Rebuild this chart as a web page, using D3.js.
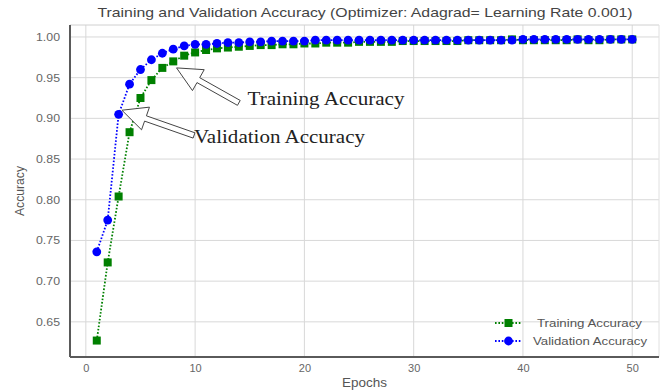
<!DOCTYPE html>
<html>
<head>
<meta charset="utf-8">
<script src="https://cdn.jsdelivr.net/npm/d3@7/dist/d3.min.js"></script>
<style>
  html, body { margin: 0; padding: 0; background: #fff; }
  svg { display: block; }
</style>
</head>
<body>
<svg id="chart" width="669" height="390"></svg>
<script>
const epochs = d3.range(1, 51);
const trainAcc = [0.627, 0.723, 0.804, 0.883, 0.925, 0.947, 0.962, 0.970, 0.977, 0.981,
                  0.984, 0.986, 0.987, 0.988, 0.989, 0.990, 0.990, 0.991, 0.991, 0.992,
                  0.992, 0.993, 0.993, 0.993, 0.994, 0.994, 0.994, 0.994, 0.995, 0.995,
                  0.995, 0.995, 0.995, 0.995, 0.996, 0.996, 0.996, 0.996, 0.997, 0.996,
                  0.996, 0.996, 0.996, 0.996, 0.997, 0.996, 0.996, 0.997, 0.997, 0.997];
const valAcc   = [0.736, 0.775, 0.905, 0.942, 0.960, 0.972, 0.980, 0.985, 0.989, 0.991,
                  0.991, 0.992, 0.993, 0.993, 0.994, 0.994, 0.995, 0.995, 0.995, 0.995,
                  0.996, 0.996, 0.996, 0.996, 0.996, 0.996, 0.996, 0.996, 0.996, 0.996,
                  0.996, 0.996, 0.996, 0.996, 0.996, 0.996, 0.996, 0.996, 0.996, 0.997,
                  0.997, 0.997, 0.997, 0.997, 0.997, 0.997, 0.997, 0.997, 0.997, 0.997];
const xTicks = [0, 10, 20, 30, 40, 50];
const yTicks = [0.65, 0.70, 0.75, 0.80, 0.85, 0.90, 0.95, 1.00];
const seriesNames = ["Training Accuracy", "Validation Accuracy"];
const titleText = "Training and Validation Accuracy (Optimizer: Adagrad= Learning Rate 0.001)";

const svg = d3.select("#chart");
const plot = { left: 70, right: 659, top: 25, bottom: 357 };
const x = d3.scaleLinear().domain([-1.45, 52.45]).range([plot.left, plot.right]);
const y = d3.scaleLinear().domain([0.6068, 1.0147]).range([plot.bottom, plot.top]);
const sans = "'Liberation Sans', Arial, sans-serif";

// grid
const g = svg.append("g");
g.selectAll(".vg").data(xTicks).enter().append("line")
  .attr("x1", d => x(d)).attr("x2", d => x(d))
  .attr("y1", plot.top).attr("y2", plot.bottom)
  .attr("stroke", "#d8d8d8").attr("stroke-width", 1);
g.selectAll(".hg").data(yTicks).enter().append("line")
  .attr("y1", d => y(d)).attr("y2", d => y(d))
  .attr("x1", plot.left).attr("x2", plot.right)
  .attr("stroke", "#d8d8d8").attr("stroke-width", 1);

// frame
svg.append("line").attr("x1", plot.left).attr("x2", plot.right).attr("y1", plot.top).attr("y2", plot.top)
  .attr("stroke", "#d0d0d0");
svg.append("line").attr("x1", plot.right).attr("x2", plot.right).attr("y1", plot.top).attr("y2", plot.bottom)
  .attr("stroke", "#e0e0e0");

// axes
const xAxis = d3.axisBottom(x).tickValues(xTicks).tickSize(0).tickPadding(7).tickFormat(d3.format("d"));
const yAxis = d3.axisLeft(y).tickValues(yTicks).tickSize(0).tickPadding(10).tickFormat(d3.format(".2f"));
const gx = svg.append("g").attr("transform", `translate(0,${plot.bottom})`).call(xAxis);
const gy = svg.append("g").attr("transform", `translate(${plot.left},0)`).call(yAxis);
[gx, gy].forEach(a => {
  a.select(".domain").attr("stroke", "#5a5a5a").attr("stroke-width", 2);
  a.selectAll("text").attr("fill", "#666").style("font-family", sans).style("font-size", "11px");
});
gy.selectAll("text").attr("textLength", 24).attr("lengthAdjust", "spacingAndGlyphs");
gx.select(".domain").attr("d", `M${plot.left},0H${plot.right}`);
gy.select(".domain").attr("d", `M0,${plot.top}V${plot.bottom}`);

// labels
svg.append("text").attr("x", (plot.left + plot.right) / 2).attr("y", 387)
  .attr("text-anchor", "middle").attr("fill", "#555")
  .attr("textLength", 45).attr("lengthAdjust", "spacingAndGlyphs")
  .style("font-family", sans).style("font-size", "12.5px").text("Epochs");
svg.append("text").attr("transform", `translate(24,${(plot.top + plot.bottom) / 2}) rotate(-90)`)
  .attr("text-anchor", "middle").attr("fill", "#555")
  .attr("textLength", 50).attr("lengthAdjust", "spacingAndGlyphs")
  .style("font-family", sans).style("font-size", "12.5px").text("Accuracy");
svg.append("text").attr("x", 365).attr("y", 17)
  .attr("text-anchor", "middle").attr("fill", "#444")
  .attr("textLength", 535).attr("lengthAdjust", "spacingAndGlyphs")
  .style("font-family", sans).style("font-size", "13px").text(titleText);

// series
const colors = ["#008000", "#0000ff"];
const datasets = [trainAcc, valAcc];
const line = d3.line().x((d, i) => x(epochs[i])).y(d => y(d));
datasets.forEach((vals, si) => {
  svg.append("path").datum(vals).attr("d", line)
    .attr("fill", "none").attr("stroke", colors[si]).attr("stroke-width", 1.8)
    .attr("stroke-dasharray", "1.6,1.8");
  if (si === 0) {
    svg.selectAll(".sq").data(vals).enter().append("rect")
      .attr("x", (d, i) => x(epochs[i]) - 4).attr("y", d => y(d) - 4)
      .attr("width", 8).attr("height", 8).attr("fill", colors[si]);
  } else {
    svg.selectAll(".ci").data(vals).enter().append("circle")
      .attr("cx", (d, i) => x(epochs[i])).attr("cy", d => y(d))
      .attr("r", 4.4).attr("fill", colors[si]);
  }
});

// hollow arrows (annotations)
function blockArrow(tail, tip, headLen, headHalf, shaftHalf) {
  const dx = tip[0] - tail[0], dy = tip[1] - tail[1];
  const L = Math.hypot(dx, dy);
  const ux = dx / L, uy = dy / L, nx = -uy, ny = ux;
  const bx = tip[0] - ux * headLen, by = tip[1] - uy * headLen;
  const pts = [
    tip,
    [bx + nx * headHalf, by + ny * headHalf],
    [bx + nx * shaftHalf, by + ny * shaftHalf],
    [tail[0] + nx * shaftHalf, tail[1] + ny * shaftHalf],
    [tail[0] - nx * shaftHalf, tail[1] - ny * shaftHalf],
    [bx - nx * shaftHalf, by - ny * shaftHalf],
    [bx - nx * headHalf, by - ny * headHalf]
  ];
  return "M" + pts.map(p => p.join(",")).join("L") + "Z";
}
const annotations = [
  { text: "Training Accuracy", tip: [8.3, 0.962], tail: [14.0, 0.919], textAt: [14.8, 0.9165], len: 157 },
  { text: "Validation Accuracy", tip: [3.3, 0.910], tail: [9.9, 0.879], textAt: [9.9, 0.8695], len: 171 }
];
annotations.forEach(a => {
  svg.append("path")
    .attr("d", blockArrow([x(a.tail[0]), y(a.tail[1])], [x(a.tip[0]), y(a.tip[1])], 25, 12, 2.8))
    .attr("fill", "#fff").attr("stroke", "#444").attr("stroke-width", 1);
  svg.append("text").attr("x", x(a.textAt[0])).attr("y", y(a.textAt[1]))
    .attr("fill", "#222").style("font-family", "'Liberation Serif', 'Times New Roman', serif")
    .attr("textLength", a.len).attr("lengthAdjust", "spacingAndGlyphs")
    .style("font-size", "18.5px").text(a.text);
});

// legend
const leg = svg.append("g").attr("transform", "translate(495,323)");
const legLens = [105, 114];
const legX = [42, 38];
seriesNames.forEach((name, i) => {
  const row = leg.append("g").attr("transform", `translate(0,${i * 18})`);
  row.append("line").attr("x1", 0).attr("x2", 27).attr("y1", 0).attr("y2", 0)
    .attr("stroke", colors[i]).attr("stroke-width", 1.8).attr("stroke-dasharray", "1.6,1.8");
  if (i === 0) row.append("rect").attr("x", 9.5).attr("y", -4).attr("width", 8).attr("height", 8).attr("fill", colors[i]);
  else row.append("circle").attr("cx", 13.5).attr("cy", 0).attr("r", 4.4).attr("fill", colors[i]);
  row.append("text").attr("x", legX[i]).attr("y", 4).attr("fill", "#555")
    .attr("textLength", legLens[i]).attr("lengthAdjust", "spacingAndGlyphs")
    .style("font-family", sans).style("font-size", "11.5px").text(name);
});
</script>
</body>
</html>
